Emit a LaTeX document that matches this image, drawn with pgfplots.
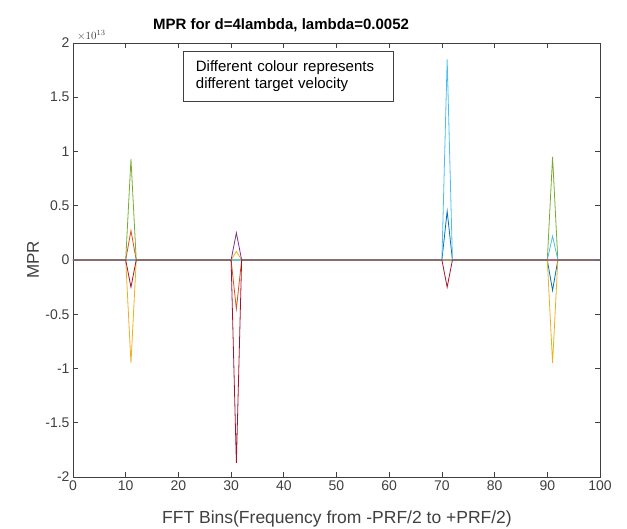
\documentclass[border=0pt]{standalone}
\usepackage{pgfplots}
\pgfplotsset{compat=1.18}
\usepackage{fontspec}
\setmainfont{Liberation Sans}
\definecolor{m1}{rgb}{0,0.447,0.741}
\definecolor{m2}{rgb}{0.85,0.325,0.098}
\definecolor{m3}{rgb}{0.929,0.694,0.125}
\definecolor{m4}{rgb}{0.494,0.184,0.556}
\definecolor{m5}{rgb}{0.466,0.674,0.188}
\definecolor{m6}{rgb}{0.301,0.745,0.933}
\definecolor{m7}{rgb}{0.635,0.078,0.184}
\definecolor{ax}{rgb}{0.25,0.25,0.25}
\begin{document}
\begin{tikzpicture}
\useasboundingbox (-73pt,-52pt) rectangle (554pt,477pt);
\begin{axis}[
  at={(0pt,0pt)}, anchor=south west,
  scale only axis, width=527pt, height=434pt,
  xmin=0, xmax=100, ymin=-2, ymax=2,
  xtick={0,10,...,100},
  ytick={-2,-1.5,-1,-0.5,0,0.5,1,1.5,2},
  yticklabels={-2,-1.5,-1,-0.5,0,0.5,1,1.5,2},
  scaled y ticks=false,
  tick align=inside,
  major tick length=5pt,
  axis line style={ax, line width=0.7pt},
  tick style={ax, line width=0.6pt},
  every tick label/.append style={text=ax, font=\fontsize{14}{16}\selectfont},
  /pgf/number format/assume math mode=true,
  clip=true,
  every axis plot/.append style={line width=0.8pt, mark=none},
]
\addplot[m1] coordinates {(0,0) (10,0) (11,0) (12,0) (30,0) (31,0) (32,0) (70,0) (71,0.45) (72,0) (90,0) (91,-0.28) (92,0) (100,0)};
\addplot[m2] coordinates {(0,0) (10,0) (11,0.27) (12,0) (30,0) (31,-0.45) (32,0) (70,0) (71,0) (72,0) (90,0) (91,0) (92,0) (100,0)};
\addplot[m3] coordinates {(0,0) (10,0) (11,-0.95) (12,0) (30,0) (31,0.08) (32,0) (70,0) (71,0) (72,0) (90,0) (91,-0.95) (92,0) (100,0)};
\addplot[m4] coordinates {(0,0) (10,0) (11,0) (12,0) (30,0) (31,0.25) (32,0) (70,0) (71,0) (72,0) (90,0) (91,0) (92,0) (100,0)};
\addplot[m5] coordinates {(0,0) (10,0) (11,0.93) (12,0) (30,0) (31,0) (32,0) (70,0) (71,0) (72,0) (90,0) (91,0.95) (92,0) (100,0)};
\addplot[m6] coordinates {(0,0) (10,0) (11,0) (12,0) (30,0) (31,0) (32,0) (70,0) (71,1.85) (72,0) (90,0) (91,0.22) (92,0) (100,0)};
\addplot[m7] coordinates {(0,0) (10,0) (11,-0.25) (12,0) (30,0) (31,-1.87) (32,0) (70,0) (71,-0.25) (72,0) (90,0) (91,0) (92,0) (100,0)};
\node[draw=ax, line width=0.6pt, fill=white, anchor=north west, align=left, inner sep=0pt,
  font=\fontsize{15}{17}\selectfont, minimum width=210pt, minimum height=50pt, text width=200pt]
  at (axis cs:20.8,1.93) {\hspace*{8pt}Different colour represents\\\hspace*{8pt}different target velocity};
\end{axis}
\node[anchor=south west, text=ax, inner sep=0pt] at (4pt,436pt) {\fontsize{11}{12}\selectfont$\times10^{13}$};
\node[font=\bfseries\fontsize{15}{17}\selectfont, text=black] at (208pt,452pt) {MPR for d=4lambda, lambda=0.0052};
\node[font=\fontsize{17.5}{19}\selectfont, text=ax] at (264pt,-42pt) {FFT Bins(Frequency from -PRF/2 to +PRF/2)};
\node[font=\fontsize{17}{19}\selectfont, text=ax, rotate=90] at (-40pt,217pt) {MPR};
\end{tikzpicture}
\end{document}
